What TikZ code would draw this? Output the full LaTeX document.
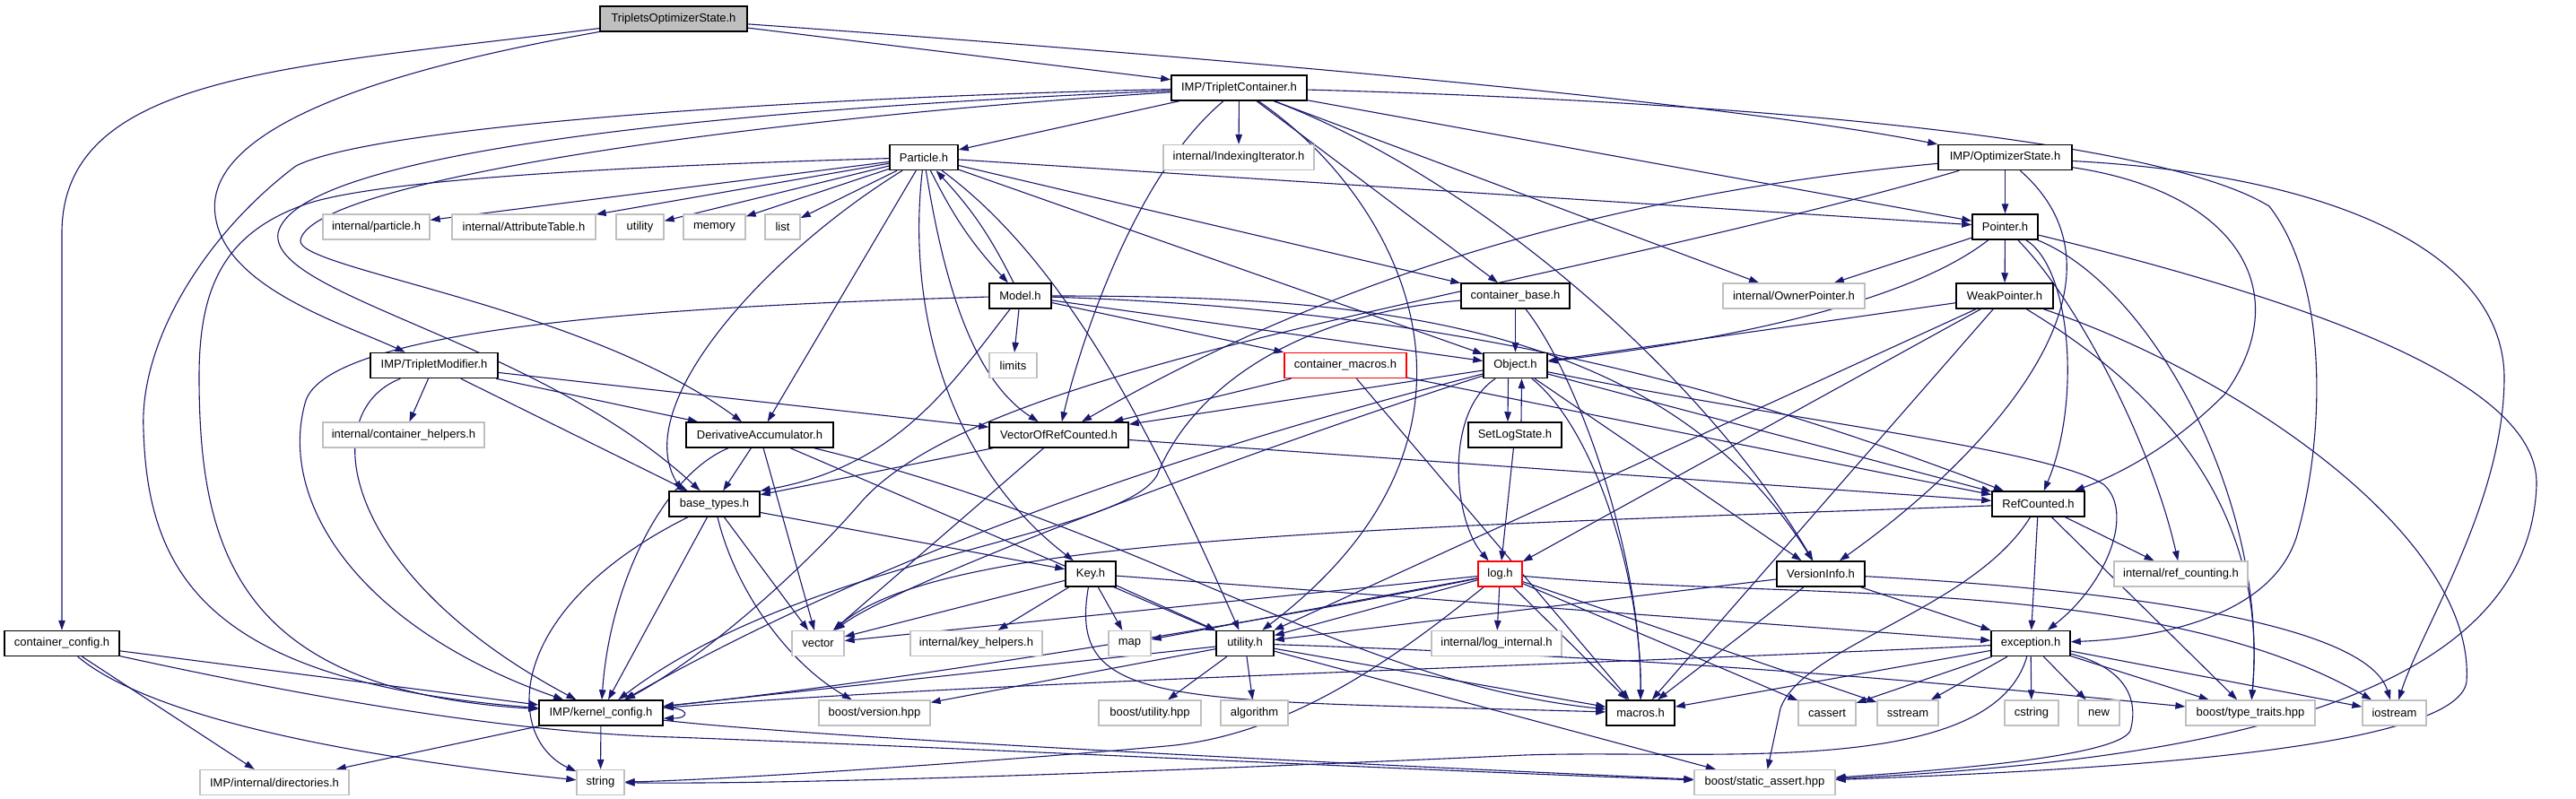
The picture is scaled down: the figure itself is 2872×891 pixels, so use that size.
\documentclass[tikz,border=0pt]{standalone}
\usepackage{fontspec}
\setmainfont{Liberation Sans}
\usetikzlibrary{arrows.meta}
\definecolor{eblue}{HTML}{191970}
\definecolor{ngray}{HTML}{BFBFBF}
\pgfdeclarelayer{bg}
\pgfsetlayers{bg,main}
\begin{document}
\begin{tikzpicture}[x=1pt,y=-1pt,
  nd/.style={draw=black, line width=1.5pt, fill=white, minimum height=28pt, inner sep=0pt, font=\fontsize{13}{15}\selectfont},
  gn/.style={nd, draw=ngray, line width=1.3pt},
  rn/.style={nd, draw=red, line width=1.3pt},
  rootnd/.style={nd, fill=ngray},
  dep/.style={draw=eblue, line width=1.1pt, -{Triangle[length=11pt,width=7.5pt]}}]
\path[use as bounding box] (0,0) rectangle (2872,891);
% row 0-2
\node[rootnd, minimum width=164pt] (tos) at (751,21) {TripletsOptimizerState.h};
\node[nd, minimum width=151pt] (tc) at (1381.5,98) {IMP/TripletContainer.h};
\node[nd, minimum width=76pt] (part) at (1030,175.5) {Particle.h};
\node[gn, minimum width=168pt] (iter) at (1381,175.5) {internal/IndexingIterator.h};
\node[nd, minimum width=149pt] (os) at (2235.5,175.5) {IMP/OptimizerState.h};
% row 3
\node[gn, minimum width=119pt] (ipart) at (419.5,253) {internal/particle.h};
\node[gn, minimum width=160pt] (attr) at (584,253) {internal/AttributeTable.h};
\node[gn, minimum width=53pt] (sutil) at (713.5,253) {utility};
\node[gn, minimum width=69pt] (mem) at (796.5,253) {memory};
\node[gn, minimum width=39pt] (list) at (872.5,253) {list};
\node[nd, minimum width=73pt] (ptr) at (2235.5,253) {Pointer.h};
% row 4
\node[nd, minimum width=69pt] (model) at (1137.5,330) {Model.h};
\node[nd, minimum width=121pt] (cbase) at (1689.5,330) {container\_base.h};
\node[gn, minimum width=158pt] (owner) at (2000,330) {internal/OwnerPointer.h};
\node[nd, minimum width=108pt] (weak) at (2235,330) {WeakPointer.h};
% row 5
\node[nd, minimum width=142pt] (tmod) at (484,407.5) {IMP/TripletModifier.h};
\node[gn, minimum width=53pt] (limits) at (1129.5,407.5) {limits};
\node[rn, minimum width=136pt] (cmac) at (1500,407.5) {container\_macros.h};
\node[nd, minimum width=71pt] (obj) at (1689.5,407.5) {Object.h};
% row 6
\node[gn, minimum width=180pt] (chelp) at (450,485) {internal/container\_helpers.h};
\node[nd, minimum width=164pt] (da) at (847,485) {DerivativeAccumulator.h};
\node[nd, minimum width=155pt] (vorc) at (1180.5,485) {VectorOfRefCounted.h};
\node[nd, minimum width=104pt] (sls) at (1689,485) {SetLogState.h};
% row 7
\node[nd, minimum width=101pt] (bt) at (796.5,562) {base\_types.h};
\node[nd, minimum width=103pt] (rc) at (2272.5,562) {RefCounted.h};
% row 8
\node[nd, minimum width=56pt] (key) at (1216,640) {Key.h};
\node[rn, minimum width=49pt] (log) at (1672.5,640) {log.h};
\node[nd, minimum width=98pt] (vi) at (2030,640) {VersionInfo.h};
\node[gn, minimum width=149pt] (rcnt) at (2431.5,640) {internal/ref\_counting.h};
% row 9
\node[nd, minimum width=128pt] (cc) at (69,717.5) {container\_config.h};
\node[gn, minimum width=58pt] (vec) at (912,717.5) {vector};
\node[gn, minimum width=147pt] (khelp) at (1088.5,717.5) {internal/key\_helpers.h};
\node[gn, minimum width=47pt] (map) at (1259.5,717.5) {map};
\node[nd, minimum width=64pt] (util) at (1388,717.5) {utility.h};
\node[gn, minimum width=145pt] (logi) at (1668.5,717.5) {internal/log\_internal.h};
\node[nd, minimum width=88pt] (exc) at (2264,717.5) {exception.h};
% row 10
\node[nd, minimum width=138pt] (kc) at (670,795) {IMP/kernel\_config.h};
\node[gn, minimum width=124pt] (bver) at (975,795) {boost/version.hpp};
\node[gn, minimum width=114pt] (butil) at (1282,795) {boost/utility.hpp};
\node[gn, minimum width=75pt] (alg) at (1398.5,795) {algorithm};
\node[nd, minimum width=76pt] (mac) at (1829,795) {macros.h};
\node[gn, minimum width=64pt] (cass) at (2037,795) {cassert};
\node[gn, minimum width=68pt] (sst) at (2127,795) {sstream};
\node[gn, minimum width=60pt] (cstr) at (2265,795) {cstring};
\node[gn, minimum width=46pt] (new) at (2340,795) {new};
\node[gn, minimum width=144pt] (btt) at (2509,795) {boost/type\_traits.hpp};
\node[gn, minimum width=71pt] (ios) at (2669.5,795) {iostream};
% row 11
\node[gn, minimum width=166pt] (dirs) at (306,872.5) {IMP/internal/directories.h};
\node[gn, minimum width=53pt] (str) at (669.5,872.5) {string};
\node[gn, minimum width=157pt] (bsa) at (1967.5,872.5) {boost/static\_assert.hpp};

\begin{pgfonlayer}{bg}
% TripletsOptimizerState.h
\draw[dep] (tos) .. controls (330,75) and (69,80) .. (69,260) -- (cc);
\draw[dep] (tos) .. controls (330,95) and (230,170) .. (240,240) .. controls (250,320) and (380,360) .. (tmod);
\draw[dep] (tos) -- (tc);
\draw[dep] (tos) .. controls (1300,60) and (1900,110) .. (os);
% IMP/TripletContainer.h
\draw[dep] (tc) -- (part);
\draw[dep] (tc) -- (iter);
\draw[dep] (tc) .. controls (1260,200) and (1200,400) .. (vorc);
\draw[dep] (tc) .. controls (1560,220) and (1700,480) .. (util);
\draw[dep] (tc) -- (cbase);
\draw[dep] (tc) .. controls (1650,200) and (1900,420) .. (vi);
\draw[dep] (tc) -- (owner);
\draw[dep] (tc) -- (ptr);
\draw[dep] (tc) .. controls (1900,112) and (2400,150) .. (2530,230) .. controls (2600,320) and (2590,500) .. (2560,600) .. controls (2530,690) and (2400,712) .. (exc);
\draw[dep] (tc) .. controls (800,122) and (330,170) .. (310,260) .. controls (300,330) and (600,380) .. (bt);
\draw[dep] (tc) .. controls (800,135) and (345,205) .. (335,268) .. controls (330,300) and (650,340) .. (da);
\draw[dep] (tc) .. controls (900,108) and (420,140) .. (330,185) .. controls (230,260) and (155,380) .. (160,480) .. controls (165,640) and (230,760) .. (kc);
% Particle.h
\draw[dep] (part) -- (ipart);
\draw[dep] (part) -- (attr);
\draw[dep] (part) -- (sutil);
\draw[dep] (part) -- (mem);
\draw[dep] (part) -- (list);
\draw[dep] (part) .. controls (700,185) and (420,200) .. (340,228) .. controls (250,260) and (222,320) .. (222,420) .. controls (222,620) and (270,770) .. (kc);
\draw[dep] (part) .. controls (860,280) and (700,450) .. ([xshift=15pt]bt.north west);
\draw[dep] (part) -- (da);
\draw[dep] (part) to[bend right=8] (model);
\draw[dep] (part) .. controls (1050,300) and (1080,420) .. (vorc);
\draw[dep] (part) .. controls (1010,350) and (1060,520) .. (key);
\draw[dep] (part) .. controls (1200,300) and (1300,520) .. (util);
\draw[dep] (part) -- (ptr);
\draw[dep] (part) -- (cbase);
\draw[dep] (part) -- (obj);
% Model.h
\draw[dep] (model) to[bend right=8] (part);
\draw[dep] (model) .. controls (800,340) and (360,360) .. (340,450) .. controls (310,560) and (400,700) .. (kc);
\draw[dep] (model) .. controls (1060,430) and (1000,520) .. (bt.north east);
\draw[dep] (model) -- (limits);
\draw[dep] (model) -- (obj);
\draw[dep] (model) -- (cmac);
\draw[dep] (model) .. controls (1500,330) and (1850,350) .. (vi);
\draw[dep] (model) .. controls (1600,345) and (1900,420) .. (rc);
% IMP/OptimizerState.h
\draw[dep] (os) -- (ptr);
\draw[dep] (os) .. controls (1750,220) and (1450,330) .. (vorc);
\draw[dep] (os) .. controls (1700,330) and (1100,400) .. (960,560) .. controls (900,630) and (790,730) .. (kc);
\draw[dep] (os) .. controls (2400,320) and (2200,520) .. (vi);
\draw[dep] (os) .. controls (2600,195) and (2790,280) .. (2792,420) .. controls (2792,560) and (2700,700) .. (ios);
\draw[dep] (os) .. controls (2500,215) and (2560,330) .. (2480,440) .. controls (2420,500) and (2360,530) .. (rc);
% Pointer.h
\draw[dep] (ptr) -- (owner);
\draw[dep] (ptr) -- (weak);
\draw[dep] (ptr) .. controls (2150,320) and (2000,370) .. (obj);
\draw[dep] (ptr) .. controls (2310,300) and (2320,450) .. (rc);
\draw[dep] (ptr) .. controls (2320,340) and (2400,500) .. (rcnt);
\draw[dep] (ptr) .. controls (2400,320) and (2530,560) .. (btt);
\draw[dep] (ptr) .. controls (2550,330) and (2830,420) .. (2828,540) .. controls (2820,800) and (2400,850) .. (bsa);
% WeakPointer.h
\draw[dep] (weak) -- (obj);
\draw[dep] (weak) -- (util);
\draw[dep] (weak) -- (log);
\draw[dep] (weak) -- (mac);
\draw[dep] (weak) .. controls (2400,430) and (2530,560) .. (btt);
\draw[dep] (weak) .. controls (2500,420) and (2760,600) .. (2750,760) .. controls (2740,840) and (2300,860) .. (bsa);
% container_base.h
\draw[dep] (cbase) -- (obj);
\draw[dep] (cbase) .. controls (1760,420) and (1830,620) .. (mac);
\draw[dep] (cbase) .. controls (1450,350) and (1330,430) .. (1290,530) .. controls (1250,600) and (900,620) .. (kc);
% IMP/TripletModifier.h
\draw[dep] (tmod) .. controls (350,460) and (380,640) .. (kc);
\draw[dep] (tmod) -- (chelp);
\draw[dep] (tmod) -- (bt);
\draw[dep] (tmod) -- (da);
\draw[dep] (tmod) -- (vorc);
% container_macros.h
\draw[dep] (cmac) -- (vorc);
\draw[dep] (cmac) -- (mac);
\draw[dep] (cmac) -- (rc);
% Object.h
\draw[dep] ([xshift=-8pt]obj.south) -- ([xshift=-8pt]sls.north);
\draw[dep] (obj) .. controls (1610,460) and (1620,580) .. (log);
\draw[dep] (obj) -- (vorc);
\draw[dep] (obj) -- (rc);
\draw[dep] (obj) -- (vi);
\draw[dep] (obj) .. controls (2000,470) and (2280,500) .. (2345,540) .. controls (2380,570) and (2350,650) .. (exc);
\draw[dep] (obj) .. controls (1780,480) and (1830,650) .. (mac);
\draw[dep] (obj) .. controls (1400,500) and (1000,650) .. (vec);
\draw[dep] (obj) .. controls (1450,470) and (1050,580) .. (kc);
% SetLogState.h
\draw[dep] ([xshift=7pt]sls.north) -- ([xshift=7pt]obj.south);
\draw[dep] (sls) -- (log);
% DerivativeAccumulator.h
\draw[dep] (da) .. controls (740,530) and (680,650) .. (kc);
\draw[dep] (da) -- (bt);
\draw[dep] (da) -- (vec);
\draw[dep] (da) -- (util);
\draw[dep] (da) .. controls (1280,590) and (1500,760) .. (mac);
% VectorOfRefCounted.h
\draw[dep] (vorc) -- (rc);
\draw[dep] (vorc) -- (vec);
\draw[dep] (vorc) -- (bt);
% base_types.h
\draw[dep] (bt) -- (key);
\draw[dep] (bt) -- (vec);
\draw[dep] (bt) -- (kc);
\draw[dep] (bt) .. controls (820,660) and (880,740) .. (bver);
\draw[dep] (bt) .. controls (640,640) and (590,720) .. (590,780) .. controls (590,830) and (620,850) .. (str);
% RefCounted.h
\draw[dep] (rc) -- (exc);
\draw[dep] (rc) -- (btt);
\draw[dep] (rc) -- (rcnt);
\draw[dep] (rc) .. controls (2200,680) and (2010,720) .. (1985,790) -- (bsa);
\draw[dep] (rc) .. controls (1500,590) and (1050,600) .. (vec);
% Key.h
\draw[dep] (key) -- (vec);
\draw[dep] (key) -- (khelp);
\draw[dep] (key) -- (map);
\draw[dep] (key) -- (util);
\draw[dep] (key) .. controls (1190,790) and (1300,780) .. (mac);
\draw[dep] (key) -- (exc);
% log.h
\draw[dep] (log) -- (vec);
\draw[dep] (log) -- (map);
\draw[dep] (log) -- (util);
\draw[dep] (log) -- (logi);
\draw[dep] (log) -- (mac);
\draw[dep] (log) .. controls (1560,730) and (1440,820) .. (1300,832) .. controls (1100,850) and (800,870) .. (str);
\draw[dep] (log) .. controls (2000,670) and (2400,640) .. (ios);
\draw[dep] (log) -- (sst);
\draw[dep] (log) -- (cass);
\draw[dep] (log) .. controls (1400,695) and (1000,760) .. (kc);
% utility.h
\draw[dep] (util) -- (kc);
\draw[dep] (util) -- (bver);
\draw[dep] (util) -- (butil);
\draw[dep] (util) -- (alg);
\draw[dep] (util) -- (mac);
\draw[dep] (util) -- (bsa);
\draw[dep] (util) .. controls (1900,735) and (2200,765) .. (btt);
% VersionInfo.h
\draw[dep] (vi) -- (util);
\draw[dep] (vi) -- (mac);
\draw[dep] (vi) .. controls (2400,660) and (2640,700) .. (ios);
\draw[dep] (vi) -- (exc);
% exception.h
\draw[dep] (exc) -- (cass);
\draw[dep] (exc) -- (sst);
\draw[dep] (exc) -- (cstr);
\draw[dep] (exc) -- (new);
\draw[dep] (exc) -- (btt);
\draw[dep] (exc) -- (ios);
\draw[dep] (exc) .. controls (2370,745) and (2385,780) .. (2375,815) .. controls (2360,845) and (2150,860) .. (bsa);
\draw[dep] (exc) .. controls (2220,870) and (1900,835) .. (1700,842) .. controls (1300,860) and (900,875) .. (str);
\draw[dep] (exc) .. controls (1800,740) and (1100,760) .. (kc);
\draw[dep] (exc) -- (mac);
% container_config.h
\draw[dep] (cc) -- (kc);
\draw[dep] (cc) -- (dirs);
\draw[dep] (cc) .. controls (180,810) and (450,850) .. (str);
\draw[dep] (cc) .. controls (400,790) and (600,818) .. (750,822) .. controls (1100,835) and (1600,860) .. (bsa);
% IMP/kernel_config.h
\draw[dep] (kc) -- (dirs);
\draw[dep] (kc) -- (str);
\draw[dep] (kc) .. controls (900,822) and (1500,852) .. (bsa);
\draw[dep] ([yshift=6pt]kc.east) .. controls +(30,0) and +(30,0) .. ([yshift=-6pt]kc.east);
\end{pgfonlayer}
\end{tikzpicture}
\end{document}
